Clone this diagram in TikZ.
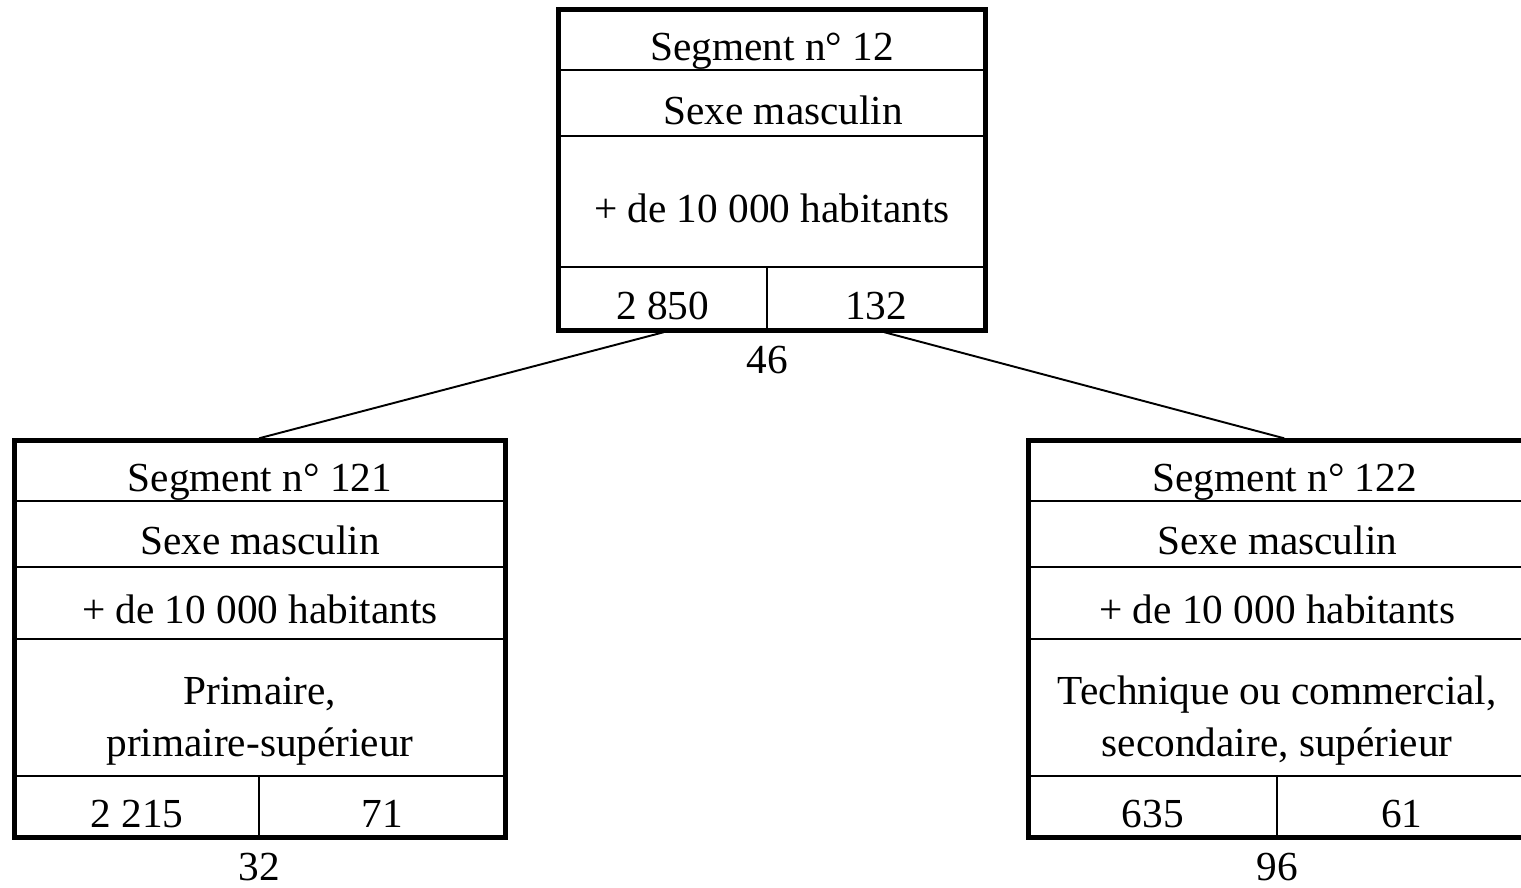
\documentclass[tikz,border=0pt]{standalone}
\usepackage{fontspec}
\setmainfont{Liberation Serif}
\usepackage{tikz}
\usetikzlibrary{positioning}

\begin{document}
\begin{tikzpicture}[x=1cm,y=1cm,line cap=rect,
        font=\fontsize{23.5}{29.6}\selectfont,
        row/.style={draw,line width=1pt,inner sep=0pt,outer sep=0pt,text height=0.84cm,text depth=0cm},
        tworow/.style={row,align=center,text height=1.97cm,text depth=0cm},
        frame/.style={draw,line width=2.85pt},
        link/.style={line width=1.1pt},
        count/.style={inner sep=0pt}]
        \useasboundingbox (0,0) rectangle (30.42,-17.74);
        % segment 12
        \node[row,minimum width=8.54cm,minimum height=1.21cm] (s12) at (15.44,-0.795) {Segment n° 12};
        \node[row,minimum width=8.54cm,minimum height=1.32cm,below=0pt of s12] (s12sex) {\hspace{0.45cm}Sexe masculin};
        \node[row,minimum width=8.54cm,minimum height=2.62cm,below=0pt of s12sex] (s12hab) {+ de 10 000 habitants};
        \node[row,minimum width=4.17cm,minimum height=1.26cm,below=0pt of s12hab.south west,anchor=north west] (s12a) {2 850};
        \node[row,minimum width=4.37cm,minimum height=1.26cm,right=0pt of s12a] (s12b) {132};
        \draw[frame] (s12.north west) rectangle (s12b.south east);
        \node[count,below=0.86cm of s12a.south east,anchor=base] (t12) {46};
        % segment 121
        \node[row,minimum width=9.82cm,minimum height=1.204cm] (s121) at (5.2,-9.412) {Segment n° 121};
        \node[row,minimum width=9.82cm,minimum height=1.32cm,below=0pt of s121] (s121sex) {Sexe masculin};
        \node[row,minimum width=9.82cm,minimum height=1.446cm,below=0pt of s121sex] (s121hab) {+ de 10 000 habitants};
        \node[tworow,minimum width=9.82cm,minimum height=2.734cm,below=0pt of s121hab] (s121ins) {Primaire,\\primaire-supérieur};
        \node[row,minimum width=4.896cm,minimum height=1.236cm,below=0pt of s121ins.south west,anchor=north west] (s121a) {2 215};
        \node[row,minimum width=4.924cm,minimum height=1.236cm,right=0pt of s121a] (s121b) {71};
        \draw[frame] (s121.north west) rectangle (s121b.south east);
        \node[count,below=0.85cm of s121a.south east,anchor=base] (t121) {32};
        % segment 122
        \node[row,minimum width=9.95cm,minimum height=1.204cm] (s122) at (25.545,-9.412) {\hspace{0.3cm}Segment n° 122};
        \node[row,minimum width=9.95cm,minimum height=1.32cm,below=0pt of s122] (s122sex) {Sexe masculin};
        \node[row,minimum width=9.95cm,minimum height=1.446cm,below=0pt of s122sex] (s122hab) {+ de 10 000 habitants};
        \node[tworow,minimum width=9.95cm,minimum height=2.734cm,below=0pt of s122hab] (s122ins) {Technique ou commercial,\\secondaire, supérieur};
        \node[row,minimum width=4.976cm,minimum height=1.236cm,below=0pt of s122ins.south west,anchor=north west] (s122a) {635};
        \node[row,minimum width=4.974cm,minimum height=1.236cm,right=0pt of s122a] (s122b) {61};
        \draw[frame] (s122.north west) rectangle (s122b.south east);
        \node[count,below=0.85cm of s122a.south east,anchor=base] (t122) {96};
        % links
        \draw[link] ([yshift=-1.4pt]s12a.south) -- ([yshift=1.4pt]s121.north);
        \draw[link] ([xshift=0.18cm,yshift=-1.4pt]s12b.south) -- ([xshift=0.12cm,yshift=1.4pt]s122.north);
        
        \end{tikzpicture}
\end{document}
